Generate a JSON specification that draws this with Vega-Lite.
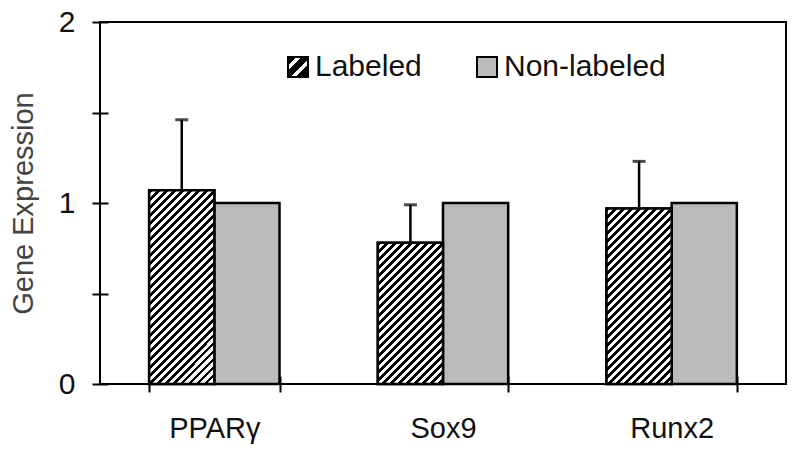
{
  "$schema": "https://vega.github.io/schema/vega-lite/v6.json",
  "width": 686,
  "height": 362,
  "autosize": {"type": "none"},
  "padding": {"left": 100, "top": 22, "right": 14, "bottom": 74},
  "background": "white",
  "config": {"view": {"stroke": "#000", "strokeWidth": 2}, "font": "Liberation Sans"},
  "data": {"values": [
    {"gene": "PPARγ", "group": "Labeled", "value": 1.07, "upper": 1.46},
    {"gene": "PPARγ", "group": "Non-labeled", "value": 1.0},
    {"gene": "Sox9", "group": "Labeled", "value": 0.78, "upper": 0.99},
    {"gene": "Sox9", "group": "Non-labeled", "value": 1.0},
    {"gene": "Runx2", "group": "Labeled", "value": 0.97, "upper": 1.23},
    {"gene": "Runx2", "group": "Non-labeled", "value": 1.0}
  ]},
  "encoding": {
    "x": {"field": "gene", "type": "nominal", "sort": ["PPARγ", "Sox9", "Runx2"],
      "scale": {"paddingInner": 0.43, "paddingOuter": 0.215},
      "axis": {"title": null, "domain": false, "tickBand": "extent", "offset": -8, "tickSize": 16, "tickWidth": 2, "tickColor": "#000", "labelAngle": 0, "labelFontSize": 29, "labelColor": "#111", "labelPadding": 22}},
    "xOffset": {"field": "group", "type": "nominal", "sort": ["Labeled", "Non-labeled"]}
  },
  "layer": [
    {
      "mark": {"type": "bar", "strokeWidth": 2.5, "stroke": "#000"},
      "encoding": {
        "y": {"field": "value", "type": "quantitative", "title": "Gene Expression",
          "scale": {"domain": [0, 2], "nice": false},
          "axis": {"values": [0, 0.5, 1, 1.5, 2], "labelExpr": "datum.value % 1 === 0 ? '' + datum.value : ''", "domain": false, "grid": false, "offset": -8, "tickSize": 16, "tickWidth": 2, "tickColor": "#000", "labelFontSize": 30, "labelColor": "#111", "labelPadding": 17, "titleFontSize": 29, "titleFontWeight": "normal", "titleColor": "#444", "titlePadding": 20}},
        "fill": {"field": "group", "type": "nominal",
          "scale": {"domain": ["Labeled", "Non-labeled"], "range": [
            {"expr": "{gradient: 'linear', x1: 0, y1: 0, x2: 1, y2: 1, stops: [{offset: 0, color: '#000'}, {offset: 0.22, color: '#000'}, {offset: 0.22, color: '#fff'}, {offset: 0.34, color: '#fff'}, {offset: 0.34, color: '#000'}, {offset: 0.56, color: '#000'}, {offset: 0.56, color: '#fff'}, {offset: 0.68, color: '#fff'}, {offset: 0.68, color: '#000'}, {offset: 1, color: '#000'}]}"},
            "#bbbbbb"]},
          "legend": {"orient": "none", "legendX": 183, "legendY": 30, "direction": "horizontal", "title": null, "symbolType": "square", "symbolSize": 400, "symbolStrokeColor": "#000", "symbolStrokeWidth": 2, "symbolOpacity": 1, "labelFontSize": 30, "labelColor": "#111", "labelOffset": 2, "labelLimit": 400, "columnPadding": 50, "padding": 0}}
      }
    },
    {
      "transform": [{"filter": "datum.group === 'Labeled'"}],
      "mark": {"type": "bar", "strokeWidth": 2.5, "stroke": "#000"},
      "encoding": {
        "y": {"field": "value", "type": "quantitative", "title": "Gene Expression"},
        "fill": {"condition": [
          {"test": "datum.gene === 'Sox9'", "value": {"gradient": "linear", "x1": 0, "y1": 0, "x2": 0.712, "y2": 1.541, "stops": [
            {"offset":0,"color":"#000"},{"offset":0.0136,"color":"#000"},{"offset":0.0136,"color":"#fff"},
            {"offset":0.0303,"color":"#fff"},{"offset":0.0303,"color":"#000"},{"offset":0.0439,"color":"#000"},{"offset":0.0439,"color":"#fff"},
            {"offset":0.0606,"color":"#fff"},{"offset":0.0606,"color":"#000"},{"offset":0.0742,"color":"#000"},{"offset":0.0742,"color":"#fff"},
            {"offset":0.0909,"color":"#fff"},{"offset":0.0909,"color":"#000"},{"offset":0.1045,"color":"#000"},{"offset":0.1045,"color":"#fff"},
            {"offset":0.1212,"color":"#fff"},{"offset":0.1212,"color":"#000"},{"offset":0.1348,"color":"#000"},{"offset":0.1348,"color":"#fff"},
            {"offset":0.1515,"color":"#fff"},{"offset":0.1515,"color":"#000"},{"offset":0.1651,"color":"#000"},{"offset":0.1651,"color":"#fff"},
            {"offset":0.1818,"color":"#fff"},{"offset":0.1818,"color":"#000"},{"offset":0.1954,"color":"#000"},{"offset":0.1954,"color":"#fff"},
            {"offset":0.2121,"color":"#fff"},{"offset":0.2121,"color":"#000"},{"offset":0.2257,"color":"#000"},{"offset":0.2257,"color":"#fff"},
            {"offset":0.2424,"color":"#fff"},{"offset":0.2424,"color":"#000"},{"offset":0.2560,"color":"#000"},{"offset":0.2560,"color":"#fff"},
            {"offset":0.2727,"color":"#fff"},{"offset":0.2727,"color":"#000"},{"offset":0.2863,"color":"#000"},{"offset":0.2863,"color":"#fff"},
            {"offset":0.3030,"color":"#fff"},{"offset":0.3030,"color":"#000"},{"offset":0.3166,"color":"#000"},{"offset":0.3166,"color":"#fff"},
            {"offset":0.3333,"color":"#fff"},{"offset":0.3333,"color":"#000"},{"offset":0.3469,"color":"#000"},{"offset":0.3469,"color":"#fff"},
            {"offset":0.3636,"color":"#fff"},{"offset":0.3636,"color":"#000"},{"offset":0.3772,"color":"#000"},{"offset":0.3772,"color":"#fff"},
            {"offset":0.3939,"color":"#fff"},{"offset":0.3939,"color":"#000"},{"offset":0.4075,"color":"#000"},{"offset":0.4075,"color":"#fff"},
            {"offset":0.4242,"color":"#fff"},{"offset":0.4242,"color":"#000"},{"offset":0.4378,"color":"#000"},{"offset":0.4378,"color":"#fff"},
            {"offset":0.4545,"color":"#fff"},{"offset":0.4545,"color":"#000"},{"offset":0.4681,"color":"#000"},{"offset":0.4681,"color":"#fff"},
            {"offset":0.4848,"color":"#fff"},{"offset":0.4848,"color":"#000"},{"offset":0.4984,"color":"#000"},{"offset":0.4984,"color":"#fff"},
            {"offset":0.5152,"color":"#fff"},{"offset":0.5152,"color":"#000"},{"offset":0.5288,"color":"#000"},{"offset":0.5288,"color":"#fff"},
            {"offset":0.5455,"color":"#fff"},{"offset":0.5455,"color":"#000"},{"offset":0.5591,"color":"#000"},{"offset":0.5591,"color":"#fff"},
            {"offset":0.5758,"color":"#fff"},{"offset":0.5758,"color":"#000"},{"offset":0.5894,"color":"#000"},{"offset":0.5894,"color":"#fff"},
            {"offset":0.6061,"color":"#fff"},{"offset":0.6061,"color":"#000"},{"offset":0.6197,"color":"#000"},{"offset":0.6197,"color":"#fff"},
            {"offset":0.6364,"color":"#fff"},{"offset":0.6364,"color":"#000"},{"offset":0.6500,"color":"#000"},{"offset":0.6500,"color":"#fff"},
            {"offset":0.6667,"color":"#fff"},{"offset":0.6667,"color":"#000"},{"offset":0.6803,"color":"#000"},{"offset":0.6803,"color":"#fff"},
            {"offset":0.6970,"color":"#fff"},{"offset":0.6970,"color":"#000"},{"offset":0.7106,"color":"#000"},{"offset":0.7106,"color":"#fff"},
            {"offset":0.7273,"color":"#fff"},{"offset":0.7273,"color":"#000"},{"offset":0.7409,"color":"#000"},{"offset":0.7409,"color":"#fff"},
            {"offset":0.7576,"color":"#fff"},{"offset":0.7576,"color":"#000"},{"offset":0.7712,"color":"#000"},{"offset":0.7712,"color":"#fff"},
            {"offset":0.7879,"color":"#fff"},{"offset":0.7879,"color":"#000"},{"offset":0.8015,"color":"#000"},{"offset":0.8015,"color":"#fff"}
          ]}},
          {"test": "datum.gene === 'Runx2'", "value": {"gradient": "linear", "x1": 0, "y1": 0, "x2": 0.491, "y2": 1.321, "stops": [
            {"offset":0,"color":"#000"},{"offset":0.0136,"color":"#000"},{"offset":0.0136,"color":"#fff"},
            {"offset":0.0303,"color":"#fff"},{"offset":0.0303,"color":"#000"},{"offset":0.0439,"color":"#000"},{"offset":0.0439,"color":"#fff"},
            {"offset":0.0606,"color":"#fff"},{"offset":0.0606,"color":"#000"},{"offset":0.0742,"color":"#000"},{"offset":0.0742,"color":"#fff"},
            {"offset":0.0909,"color":"#fff"},{"offset":0.0909,"color":"#000"},{"offset":0.1045,"color":"#000"},{"offset":0.1045,"color":"#fff"},
            {"offset":0.1212,"color":"#fff"},{"offset":0.1212,"color":"#000"},{"offset":0.1348,"color":"#000"},{"offset":0.1348,"color":"#fff"},
            {"offset":0.1515,"color":"#fff"},{"offset":0.1515,"color":"#000"},{"offset":0.1651,"color":"#000"},{"offset":0.1651,"color":"#fff"},
            {"offset":0.1818,"color":"#fff"},{"offset":0.1818,"color":"#000"},{"offset":0.1954,"color":"#000"},{"offset":0.1954,"color":"#fff"},
            {"offset":0.2121,"color":"#fff"},{"offset":0.2121,"color":"#000"},{"offset":0.2257,"color":"#000"},{"offset":0.2257,"color":"#fff"},
            {"offset":0.2424,"color":"#fff"},{"offset":0.2424,"color":"#000"},{"offset":0.2560,"color":"#000"},{"offset":0.2560,"color":"#fff"},
            {"offset":0.2727,"color":"#fff"},{"offset":0.2727,"color":"#000"},{"offset":0.2863,"color":"#000"},{"offset":0.2863,"color":"#fff"},
            {"offset":0.3030,"color":"#fff"},{"offset":0.3030,"color":"#000"},{"offset":0.3166,"color":"#000"},{"offset":0.3166,"color":"#fff"},
            {"offset":0.3333,"color":"#fff"},{"offset":0.3333,"color":"#000"},{"offset":0.3469,"color":"#000"},{"offset":0.3469,"color":"#fff"},
            {"offset":0.3636,"color":"#fff"},{"offset":0.3636,"color":"#000"},{"offset":0.3772,"color":"#000"},{"offset":0.3772,"color":"#fff"},
            {"offset":0.3939,"color":"#fff"},{"offset":0.3939,"color":"#000"},{"offset":0.4075,"color":"#000"},{"offset":0.4075,"color":"#fff"},
            {"offset":0.4242,"color":"#fff"},{"offset":0.4242,"color":"#000"},{"offset":0.4378,"color":"#000"},{"offset":0.4378,"color":"#fff"},
            {"offset":0.4545,"color":"#fff"},{"offset":0.4545,"color":"#000"},{"offset":0.4681,"color":"#000"},{"offset":0.4681,"color":"#fff"},
            {"offset":0.4848,"color":"#fff"},{"offset":0.4848,"color":"#000"},{"offset":0.4984,"color":"#000"},{"offset":0.4984,"color":"#fff"},
            {"offset":0.5152,"color":"#fff"},{"offset":0.5152,"color":"#000"},{"offset":0.5288,"color":"#000"},{"offset":0.5288,"color":"#fff"},
            {"offset":0.5455,"color":"#fff"},{"offset":0.5455,"color":"#000"},{"offset":0.5591,"color":"#000"},{"offset":0.5591,"color":"#fff"},
            {"offset":0.5758,"color":"#fff"},{"offset":0.5758,"color":"#000"},{"offset":0.5894,"color":"#000"},{"offset":0.5894,"color":"#fff"},
            {"offset":0.6061,"color":"#fff"},{"offset":0.6061,"color":"#000"},{"offset":0.6197,"color":"#000"},{"offset":0.6197,"color":"#fff"},
            {"offset":0.6364,"color":"#fff"},{"offset":0.6364,"color":"#000"},{"offset":0.6500,"color":"#000"},{"offset":0.6500,"color":"#fff"},
            {"offset":0.6667,"color":"#fff"},{"offset":0.6667,"color":"#000"},{"offset":0.6803,"color":"#000"},{"offset":0.6803,"color":"#fff"},
            {"offset":0.6970,"color":"#fff"},{"offset":0.6970,"color":"#000"},{"offset":0.7106,"color":"#000"},{"offset":0.7106,"color":"#fff"},
            {"offset":0.7273,"color":"#fff"},{"offset":0.7273,"color":"#000"},{"offset":0.7409,"color":"#000"},{"offset":0.7409,"color":"#fff"},
            {"offset":0.7576,"color":"#fff"},{"offset":0.7576,"color":"#000"},{"offset":0.7712,"color":"#000"},{"offset":0.7712,"color":"#fff"},
            {"offset":0.7879,"color":"#fff"},{"offset":0.7879,"color":"#000"},{"offset":0.8015,"color":"#000"},{"offset":0.8015,"color":"#fff"},
            {"offset":0.8182,"color":"#fff"},{"offset":0.8182,"color":"#000"},{"offset":0.8318,"color":"#000"},{"offset":0.8318,"color":"#fff"},
            {"offset":0.8485,"color":"#fff"},{"offset":0.8485,"color":"#000"},{"offset":0.8621,"color":"#000"},{"offset":0.8621,"color":"#fff"},
            {"offset":0.8788,"color":"#fff"},{"offset":0.8788,"color":"#000"},{"offset":0.8924,"color":"#000"},{"offset":0.8924,"color":"#fff"},
            {"offset":0.9091,"color":"#fff"},{"offset":0.9091,"color":"#000"},{"offset":0.9227,"color":"#000"},{"offset":0.9227,"color":"#fff"}
          ]}}
        ],
        "value": {"gradient": "linear", "x1": 0, "y1": 0, "x2": 0.412, "y2": 1.224, "stops": [
            {"offset":0,"color":"#000"},{"offset":0.0136,"color":"#000"},{"offset":0.0136,"color":"#fff"},
            {"offset":0.0303,"color":"#fff"},{"offset":0.0303,"color":"#000"},{"offset":0.0439,"color":"#000"},{"offset":0.0439,"color":"#fff"},
            {"offset":0.0606,"color":"#fff"},{"offset":0.0606,"color":"#000"},{"offset":0.0742,"color":"#000"},{"offset":0.0742,"color":"#fff"},
            {"offset":0.0909,"color":"#fff"},{"offset":0.0909,"color":"#000"},{"offset":0.1045,"color":"#000"},{"offset":0.1045,"color":"#fff"},
            {"offset":0.1212,"color":"#fff"},{"offset":0.1212,"color":"#000"},{"offset":0.1348,"color":"#000"},{"offset":0.1348,"color":"#fff"},
            {"offset":0.1515,"color":"#fff"},{"offset":0.1515,"color":"#000"},{"offset":0.1651,"color":"#000"},{"offset":0.1651,"color":"#fff"},
            {"offset":0.1818,"color":"#fff"},{"offset":0.1818,"color":"#000"},{"offset":0.1954,"color":"#000"},{"offset":0.1954,"color":"#fff"},
            {"offset":0.2121,"color":"#fff"},{"offset":0.2121,"color":"#000"},{"offset":0.2257,"color":"#000"},{"offset":0.2257,"color":"#fff"},
            {"offset":0.2424,"color":"#fff"},{"offset":0.2424,"color":"#000"},{"offset":0.2560,"color":"#000"},{"offset":0.2560,"color":"#fff"},
            {"offset":0.2727,"color":"#fff"},{"offset":0.2727,"color":"#000"},{"offset":0.2863,"color":"#000"},{"offset":0.2863,"color":"#fff"},
            {"offset":0.3030,"color":"#fff"},{"offset":0.3030,"color":"#000"},{"offset":0.3166,"color":"#000"},{"offset":0.3166,"color":"#fff"},
            {"offset":0.3333,"color":"#fff"},{"offset":0.3333,"color":"#000"},{"offset":0.3469,"color":"#000"},{"offset":0.3469,"color":"#fff"},
            {"offset":0.3636,"color":"#fff"},{"offset":0.3636,"color":"#000"},{"offset":0.3772,"color":"#000"},{"offset":0.3772,"color":"#fff"},
            {"offset":0.3939,"color":"#fff"},{"offset":0.3939,"color":"#000"},{"offset":0.4075,"color":"#000"},{"offset":0.4075,"color":"#fff"},
            {"offset":0.4242,"color":"#fff"},{"offset":0.4242,"color":"#000"},{"offset":0.4378,"color":"#000"},{"offset":0.4378,"color":"#fff"},
            {"offset":0.4545,"color":"#fff"},{"offset":0.4545,"color":"#000"},{"offset":0.4681,"color":"#000"},{"offset":0.4681,"color":"#fff"},
            {"offset":0.4848,"color":"#fff"},{"offset":0.4848,"color":"#000"},{"offset":0.4984,"color":"#000"},{"offset":0.4984,"color":"#fff"},
            {"offset":0.5152,"color":"#fff"},{"offset":0.5152,"color":"#000"},{"offset":0.5288,"color":"#000"},{"offset":0.5288,"color":"#fff"},
            {"offset":0.5455,"color":"#fff"},{"offset":0.5455,"color":"#000"},{"offset":0.5591,"color":"#000"},{"offset":0.5591,"color":"#fff"},
            {"offset":0.5758,"color":"#fff"},{"offset":0.5758,"color":"#000"},{"offset":0.5894,"color":"#000"},{"offset":0.5894,"color":"#fff"},
            {"offset":0.6061,"color":"#fff"},{"offset":0.6061,"color":"#000"},{"offset":0.6197,"color":"#000"},{"offset":0.6197,"color":"#fff"},
            {"offset":0.6364,"color":"#fff"},{"offset":0.6364,"color":"#000"},{"offset":0.6500,"color":"#000"},{"offset":0.6500,"color":"#fff"},
            {"offset":0.6667,"color":"#fff"},{"offset":0.6667,"color":"#000"},{"offset":0.6803,"color":"#000"},{"offset":0.6803,"color":"#fff"},
            {"offset":0.6970,"color":"#fff"},{"offset":0.6970,"color":"#000"},{"offset":0.7106,"color":"#000"},{"offset":0.7106,"color":"#fff"},
            {"offset":0.7273,"color":"#fff"},{"offset":0.7273,"color":"#000"},{"offset":0.7409,"color":"#000"},{"offset":0.7409,"color":"#fff"},
            {"offset":0.7576,"color":"#fff"},{"offset":0.7576,"color":"#000"},{"offset":0.7712,"color":"#000"},{"offset":0.7712,"color":"#fff"},
            {"offset":0.7879,"color":"#fff"},{"offset":0.7879,"color":"#000"},{"offset":0.8015,"color":"#000"},{"offset":0.8015,"color":"#fff"},
            {"offset":0.8182,"color":"#fff"},{"offset":0.8182,"color":"#000"},{"offset":0.8318,"color":"#000"},{"offset":0.8318,"color":"#fff"},
            {"offset":0.8485,"color":"#fff"},{"offset":0.8485,"color":"#000"},{"offset":0.8621,"color":"#000"},{"offset":0.8621,"color":"#fff"},
            {"offset":0.8788,"color":"#fff"},{"offset":0.8788,"color":"#000"},{"offset":0.8924,"color":"#000"},{"offset":0.8924,"color":"#fff"},
            {"offset":0.9091,"color":"#fff"},{"offset":0.9091,"color":"#000"},{"offset":0.9227,"color":"#000"},{"offset":0.9227,"color":"#fff"},
            {"offset":0.9394,"color":"#fff"},{"offset":0.9394,"color":"#000"},{"offset":0.9530,"color":"#000"},{"offset":0.9530,"color":"#fff"},
            {"offset":0.9697,"color":"#fff"},{"offset":0.9697,"color":"#000"},{"offset":0.9833,"color":"#000"},{"offset":0.9833,"color":"#fff"}
        ]}}
      }
    },
    {
      "transform": [{"filter": "datum.group === 'Labeled'"}],
      "mark": {"type": "rule", "strokeWidth": 2.5, "color": "#000"},
      "encoding": {
        "y": {"field": "value", "type": "quantitative", "title": "Gene Expression"},
        "y2": {"field": "upper"}
      }
    },
    {
      "transform": [{"filter": "datum.group === 'Labeled'"}],
      "mark": {"type": "tick", "thickness": 3, "size": 13, "color": "#000"},
      "encoding": {
        "y": {"field": "upper", "type": "quantitative", "title": "Gene Expression"}
      }
    }
  ]
}
